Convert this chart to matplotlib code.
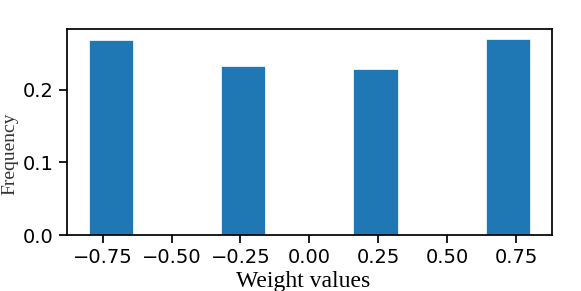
import numpy as np
import matplotlib
matplotlib.use("Agg")
import matplotlib.pyplot as plt

# histogram of weights: bin edges and relative frequency per bin
bin_edges = [-0.8, -0.64, -0.48, -0.32, -0.16, 0.0, 0.16, 0.32, 0.48, 0.64, 0.8]
frequency = [0.268, 0.0, 0.0, 0.233, 0.0, 0.0, 0.228, 0.0, 0.0, 0.270]
xticks = [-0.75, -0.5, -0.25, 0.0, 0.25, 0.5, 0.75]
yticks = [0.0, 0.1, 0.2]

fig = plt.figure(figsize=(5.81, 2.91), dpi=100)
ax = fig.add_axes([0.115, 0.192, 0.835, 0.708])

centers = (np.array(bin_edges[:-1]) + np.array(bin_edges[1:])) / 2
ax.hist(centers, bins=bin_edges, weights=frequency, color="#1f77b4",
        edgecolor="white", linewidth=0.5)

ax.set_xticks(xticks)
ax.set_yticks(yticks)
ax.tick_params(axis="both", labelsize=14, length=6, width=1.25, direction="out")
for sp in ax.spines.values():
    sp.set_linewidth(1.25)

ax.set_xlabel("Weight values", family="Liberation Serif", fontsize=17)
ax.set_ylabel("Frequency", family="Liberation Serif", fontsize=14, color="#333333")
ax.yaxis.set_label_coords(-0.10, 0.395)
ax.xaxis.set_label_coords(0.488, -0.175)

fig.savefig("out.png", dpi=100)
